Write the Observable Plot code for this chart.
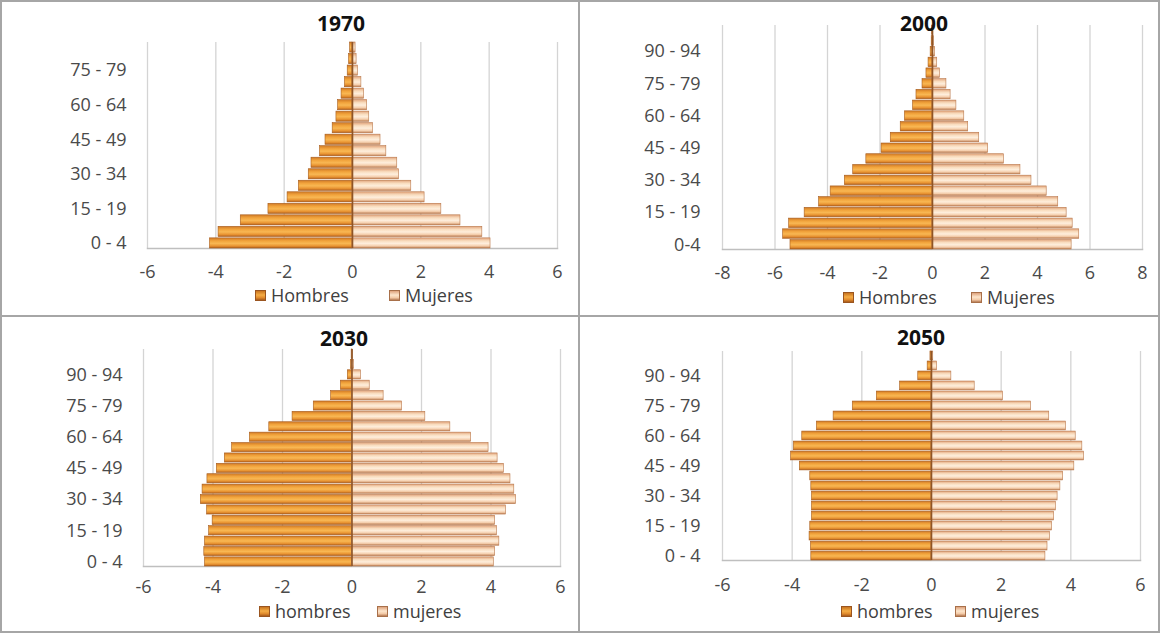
<!DOCTYPE html>
<html><head><meta charset="utf-8">
<script src="https://cdn.jsdelivr.net/npm/d3@7"></script>
<script src="https://cdn.jsdelivr.net/npm/@observablehq/plot@0.6"></script>
<style>
body{margin:0;background:#fff;}
#wrap{position:relative;width:1160px;height:633px;overflow:hidden;font-family:"Open Sans",sans-serif;background:#fff;}
.panel{position:absolute;width:578px;height:315px;}
.panel svg{position:absolute;left:0;top:0;}
.title{position:absolute;font-weight:bold;font-size:21px;line-height:1;transform:translate(-50%,-50%);color:#111;white-space:nowrap;}
.leg{position:absolute;display:flex;align-items:center;font-size:18px;line-height:1;color:#404040;transform:translateY(-50%);white-space:nowrap;}
.sw{width:11px;height:11px;margin-right:5px;box-sizing:border-box;}
.swH{background:linear-gradient(#c8741f,#f5ad45 45%,#e08a2c 75%,#a85a1a);border:1px solid #9a5520;}
.swM{background:linear-gradient(#dea27c,#fde6cc 45%,#f3c9a6 75%,#b57a52);border:1px solid #a8704a;}
.line{position:absolute;background:#a6a6a6;}
</style></head><body>
<svg width="0" height="0" style="position:absolute"><defs>
<linearGradient id="gH" x1="0" y1="0" x2="0" y2="1">
<stop offset="0" stop-color="#d07a26"/><stop offset="0.3" stop-color="#f2a43c"/><stop offset="0.55" stop-color="#f8b753"/><stop offset="0.8" stop-color="#e99432"/><stop offset="1" stop-color="#b4621e"/>
</linearGradient>
<linearGradient id="gM" x1="0" y1="0" x2="0" y2="1">
<stop offset="0" stop-color="#e2a57d"/><stop offset="0.3" stop-color="#f9ddbf"/><stop offset="0.55" stop-color="#feeedc"/><stop offset="0.8" stop-color="#f5cfae"/><stop offset="1" stop-color="#bd7f55"/>
</linearGradient>
</defs></svg>
<div id="wrap"></div>
<script>
// ---- Data ----
const ages18 = ["0 - 4","5 - 9","10 - 14","15 - 19","20 - 24","25 - 29","30 - 34","35 - 39","40 - 44","45 - 49","50 - 54","55 - 59","60 - 64","65 - 69","70 - 74","75 - 79","80 - 84","85 +"];
const ages21 = ["0 - 4","5 - 9","10 - 14","15 - 19","20 - 24","25 - 29","30 - 34","35 - 39","40 - 44","45 - 49","50 - 54","55 - 59","60 - 64","65 - 69","70 - 74","75 - 79","80 - 84","85 - 89","90 - 94","95 - 99","100 +"];
const ages2000 = ["0-4","5 - 9","10 - 14","15 - 19","20 - 24","25 - 29","30 - 34","35 - 39","40 - 44","45 - 49","50 - 54","55 - 59","60 - 64","65 - 69","70 - 74","75 - 79","80 - 84","85 - 89","90 - 94","95 - 99","100 +"];

const hombres1970 = [-4.17,-3.92,-3.27,-2.46,-1.90,-1.57,-1.28,-1.20,-0.95,-0.79,-0.58,-0.47,-0.42,-0.32,-0.22,-0.14,-0.10,-0.07];
const mujeres1970 = [4.04,3.80,3.16,2.60,2.11,1.72,1.36,1.31,0.99,0.82,0.60,0.49,0.43,0.34,0.26,0.16,0.12,0.09];

const hombres2000 = [-5.41,-5.69,-5.46,-4.87,-4.32,-3.88,-3.34,-3.02,-2.52,-1.94,-1.59,-1.21,-1.05,-0.74,-0.61,-0.38,-0.23,-0.15,-0.07,-0.03,-0.01];
const mujeres2000 = [5.30,5.59,5.34,5.11,4.79,4.35,3.77,3.35,2.72,2.12,1.78,1.36,1.21,0.91,0.69,0.53,0.28,0.18,0.10,0.05,0.02];

const hombres2030 = [-4.23,-4.25,-4.23,-4.11,-4.01,-4.17,-4.35,-4.30,-4.16,-3.89,-3.66,-3.45,-2.94,-2.38,-1.71,-1.10,-0.60,-0.32,-0.12,-0.03,-0.01];
const mujeres2030 = [4.08,4.12,4.24,4.17,4.12,4.43,4.72,4.67,4.56,4.37,4.19,3.93,3.43,2.83,2.11,1.44,0.91,0.51,0.26,0.06,0.02];

const hombres2050 = [-3.45,-3.46,-3.50,-3.48,-3.43,-3.43,-3.43,-3.45,-3.48,-3.78,-4.03,-3.95,-3.71,-3.29,-2.81,-2.26,-1.57,-0.90,-0.38,-0.11,-0.03];
const mujeres2050 = [3.27,3.33,3.40,3.46,3.52,3.57,3.62,3.70,3.78,4.10,4.38,4.33,4.14,3.86,3.38,2.86,2.05,1.24,0.57,0.16,0.05];

const ticks6 = [-6,-4,-2,0,2,4,6];
const ticks8 = [-8,-6,-4,-2,0,2,4,6,8];

const panels = [
  {title:"1970", left:0, top:0, ages:ages18, h:hombres1970, m:mujeres1970, ticks:ticks6, legend:["Hombres","Mujeres"],
   ml:147, mr:21, mt:42, mb:52, xPad:17, yPad:21, tx:341, ty:23, ly:295, l1:255, l2:389},
  {title:"2000", left:580, top:0, ages:ages2000, h:hombres2000, m:mujeres2000, ticks:ticks8, legend:["Hombres","Mujeres"],
   ml:142, mr:16, mt:25, mb:51, xPad:17, yPad:22, tx:344, ty:23, ly:297, l1:263, l2:391},
  {title:"2030", left:0, top:316, ages:ages21, h:hombres2030, m:mujeres2030, ticks:ticks6, legend:["hombres","mujeres"],
   ml:143, mr:18, mt:33, mb:50, xPad:14, yPad:21, tx:344, ty:22, ly:295, l1:259, l2:377},
  {title:"2050", left:580, top:316, ages:ages21, h:hombres2050, m:mujeres2050, ticks:ticks6, legend:["hombres","mujeres"],
   ml:142, mr:18, mt:35, mb:56, xPad:18, yPad:22, tx:341, ty:21, ly:295, l1:261, l2:375}
];

const wrap = document.getElementById("wrap");

for (const p of panels) {
  const div = document.createElement("div");
  div.className = "panel";
  div.style.left = p.left + "px";
  div.style.top = p.top + "px";
  wrap.appendChild(div);

  const men = p.ages.map((a, i) => ({age: a, v: p.h[i]}));
  const women = p.ages.map((a, i) => ({age: a, v: p.m[i]}));
  const labels = p.ages.filter((a, i) => i % 3 === 0);
  const dom = [p.ticks[0], p.ticks[p.ticks.length - 1]];

  const chart = Plot.plot({
    width: 578, height: 300,
    marginLeft: p.ml, marginRight: p.mr, marginTop: p.mt, marginBottom: p.mb,
    style: {fontFamily: "Open Sans, sans-serif", fontSize: "18px", color: "#4a4a4a", background: "transparent", overflow: "visible"},
    x: {domain: dom, label: null},
    y: {domain: p.ages.slice().reverse(), paddingInner: 0.12, paddingOuter: 0, round: false, label: null},
    marks: [
      Plot.gridX({ticks: p.ticks, stroke: "#d4d4d4", strokeOpacity: 1, strokeWidth: 1.3}),
      Plot.frame({anchor: "bottom", stroke: "#bfbfbf", strokeWidth: 1.5}),
      Plot.barX(men, {y: "age", x1: 0, x2: "v", fill: "url(#gH)", stroke: "#a65b1c", strokeWidth: 0.6}),
      Plot.barX(women, {y: "age", x1: 0, x2: "v", fill: "url(#gM)", stroke: "#b9784b", strokeWidth: 0.6}),
      Plot.ruleX([0], {stroke: "#8f5526", strokeWidth: 1.6}),
      Plot.axisX({ticks: p.ticks, tickSize: 0, tickPadding: p.xPad, tickFormat: d => String(d), label: null, fill: "#4a4a4a"}),
      Plot.axisY({ticks: labels, tickSize: 0, tickPadding: p.yPad, label: null, fill: "#4a4a4a"})
    ]
  });
  div.appendChild(chart);

  const t = document.createElement("div");
  t.className = "title";
  t.textContent = p.title;
  t.style.left = p.tx + "px";
  t.style.top = p.ty + "px";
  div.appendChild(t);

  [[p.legend[0], "swH", p.l1], [p.legend[1], "swM", p.l2]].forEach(([txt, cls, x]) => {
    const l = document.createElement("div");
    l.className = "leg";
    l.style.left = x + "px";
    l.style.top = p.ly + "px";
    l.innerHTML = `<span class="sw ${cls}"></span><span>${txt}</span>`;
    div.appendChild(l);
  });
}

// panel borders
[[0,0,1160,2],[0,631,1160,2],[0,0,2,633],[1158,0,2,633],[578,0,2,633],[0,315,1160,2]].forEach(([x,y,w,h]) => {
  const d = document.createElement("div");
  d.className = "line";
  Object.assign(d.style, {left: x+"px", top: y+"px", width: w+"px", height: h+"px"});
  wrap.appendChild(d);
});
</script>
</body></html>
